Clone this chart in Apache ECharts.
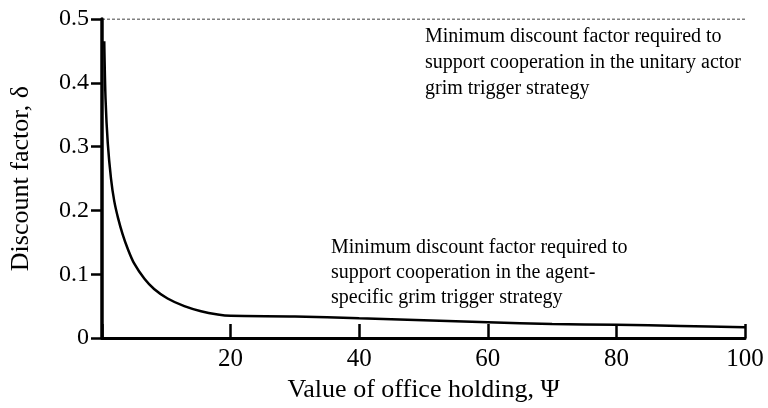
<!DOCTYPE html>
<html>
<head>
<meta charset="utf-8">
<script src="https://cdn.jsdelivr.net/npm/echarts@6/dist/echarts.min.js"></script>
<style>
  html, body { margin: 0; padding: 0; background: #fff; }
  #chart { width: 768px; height: 408px; }
</style>
</head>
<body>
<div id="chart"></div>
<script>
// office holding value (x) and minimum discount factor (y), agent-specific strategy
var officeValue = [0.35, 0.55, 0.9, 1.4, 1.9, 2.5, 3.2, 4.0, 5.0, 6.6, 8.1, 10.2, 12.8, 15.4, 18, 20, 30, 40, 50, 60, 70, 80, 90, 100];
var agentDelta = [0.465, 0.375, 0.305, 0.25, 0.215, 0.188, 0.163, 0.14, 0.117, 0.093, 0.077, 0.062, 0.05, 0.042, 0.037, 0.035, 0.034, 0.031, 0.028, 0.025, 0.022, 0.021, 0.019, 0.017];

// unitary actor threshold (flat)
var unitaryX = [0, 100];
var unitaryDelta = [0.5, 0.5];

var xTicks = [0, 20, 40, 60, 80, 100];
var yTicks = [0, 0.1, 0.2, 0.3, 0.4, 0.5];

var unitaryNote = ["Minimum discount factor required to", "support cooperation in the unitary actor", "grim trigger strategy"];
var agentNote = ["Minimum discount factor required to", "support cooperation in the agent-", "specific grim trigger strategy"];

var serif = "Liberation Serif";

var chart = echarts.init(document.getElementById("chart"));

var option = {
    animation: false,
    backgroundColor: "#fff",
    grid: { left: 101, right: 23, top: 19, bottom: 68 },
    xAxis: {
        type: "value",
        min: xTicks[0],
        max: xTicks[xTicks.length - 1],
        interval: 20,
        name: "Value of office holding, \u03A8",
        nameLocation: "middle",
        nameGap: 36,
        nameTextStyle: { fontFamily: serif, fontSize: 26, color: "#000" },
        axisLine: { onZero: false, lineStyle: { color: "#000", width: 3 } },
        axisTick: { inside: true, length: 14, lineStyle: { color: "#000", width: 2.5 } },
        axisLabel: {
            margin: 9,
            fontFamily: serif, fontSize: 25, color: "#000",
            formatter: function (v) { return v === 0 ? "" : String(v); }
        },
        splitLine: { show: false }
    },
    yAxis: {
        type: "value",
        min: yTicks[0],
        max: yTicks[yTicks.length - 1],
        interval: 0.1,
        name: "Discount factor, \u03B4",
        nameLocation: "middle",
        nameGap: 68,
        nameTextStyle: { fontFamily: serif, fontSize: 26, color: "#000" },
        axisLine: { lineStyle: { color: "#000", width: 3.5 } },
        axisTick: { inside: false, length: 11, lineStyle: { color: "#000", width: 2.5 } },
        axisLabel: {
            margin: 13,
            fontFamily: serif, fontSize: 24, color: "#000",
            formatter: function (v) { return v === 0 ? "0" : v.toFixed(1); }
        },
        splitLine: { show: false }
    },
    series: [
        {
            name: "unitary",
            type: "line",
            data: unitaryX.map(function (x, i) { return [x, unitaryDelta[i]]; }),
            showSymbol: false,
            lineStyle: { color: "#000", width: 1, type: [3, 2] },
            z: 1
        },
        {
            name: "agent",
            type: "line",
            data: officeValue.map(function (x, i) { return [x, agentDelta[i]]; }),
            showSymbol: false,
            smooth: 0.3,
            lineStyle: { color: "#000", width: 2.5 },
            z: 3
        }
    ],
    graphic: [
        {
            type: "text",
            left: 425,
            top: 24,
            style: {
                text: unitaryNote.join("\n"),
                fontFamily: serif, fontSize: 20, lineHeight: 26, fill: "#000"
            }
        },
        {
            type: "text",
            left: 331,
            top: 235,
            style: {
                text: agentNote.join("\n"),
                fontFamily: serif, fontSize: 20, lineHeight: 25, fill: "#000"
            }
        }
    ]
};

chart.setOption(option);
</script>
</body>
</html>
